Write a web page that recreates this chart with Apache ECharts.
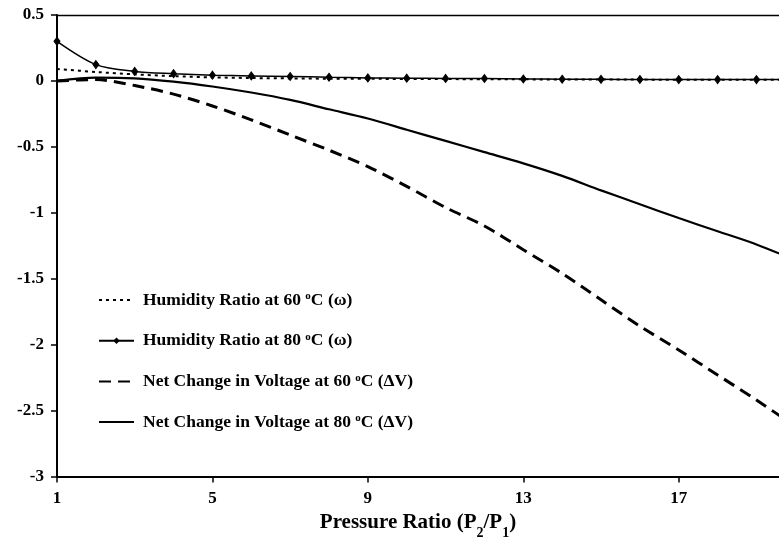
<!DOCTYPE html>
<html>
<head>
<meta charset="utf-8">
<style>
  html, body { margin: 0; padding: 0; background: #fff; }
  #chart { width: 779px; height: 539px; }
</style>
<script src="https://cdn.jsdelivr.net/npm/echarts@6/dist/echarts.min.js"></script>
</head>
<body>
<div id="chart"></div>
<script>
// Pressure ratio P2/P1 (x values)
const pressureRatio = [1, 2, 3, 4, 5, 6, 7, 8, 9, 10, 11, 12, 13, 14, 15, 16, 17, 18, 19, 20];

// Humidity ratio (ω) at 60 °C and 80 °C
const humidity60 = [0.091, 0.068, 0.050, 0.036, 0.027, 0.022, 0.019, 0.017, 0.016, 0.015, 0.014, 0.013, 0.012, 0.011, 0.010, 0.010, 0.009, 0.009, 0.008, 0.008];
const humidity80 = [0.300, 0.124, 0.072, 0.055, 0.044, 0.038, 0.034, 0.028, 0.023, 0.021, 0.019, 0.018, 0.015, 0.013, 0.012, 0.011, 0.010, 0.010, 0.010, 0.010];

// Net change in voltage (ΔV) at 60 °C and 80 °C
const deltaV60 = [0.000, 0.010, -0.035, -0.100, -0.190, -0.295, -0.410, -0.525, -0.650, -0.800, -0.960, -1.100, -1.280, -1.460, -1.660, -1.860, -2.040, -2.230, -2.420, -2.620];
const deltaV80 = [0.000, 0.025, 0.020, -0.005, -0.042, -0.088, -0.144, -0.215, -0.285, -0.370, -0.455, -0.540, -0.625, -0.720, -0.830, -0.935, -1.040, -1.140, -1.240, -1.360];

// Axis ticks and visible ranges
const xTickValues = [1, 5, 9, 13, 17];
const xMin = 1, xMax = 19.58;
const yMin = -3, yMax = 0.5, yStep = 0.5;

// Legend entries: plain name + rich-text label with superscript degree "o"
const seriesNames = [
  'Humidity Ratio at 60 oC (ω)',
  'Humidity Ratio at 80 oC (ω)',
  'Net Change in Voltage at 60 oC (ΔV)',
  'Net Change in Voltage at 80 oC (ΔV)'
];
const legendLabels = {
  'Humidity Ratio at 60 oC (ω)': '{t|Humidity Ratio at 60 }{s|o}{t|C (ω)}',
  'Humidity Ratio at 80 oC (ω)': '{t|Humidity Ratio at 80 }{s|o}{t|C (ω)}',
  'Net Change in Voltage at 60 oC (ΔV)': '{t|Net Change in Voltage at 60 }{s|o}{t|C (ΔV)}',
  'Net Change in Voltage at 80 oC (ΔV)': '{t|Net Change in Voltage at 80 }{s|o}{t|C (ΔV)}'
};

const FONT = '"Liberation Serif", "Times New Roman", serif';

function pairs(ys) {
  return pressureRatio.map((x, i) => [x, ys[i]]);
}

const chart = echarts.init(document.getElementById('chart'), null, { renderer: 'canvas' });

chart.setOption({
  animation: false,
  backgroundColor: '#ffffff',
  grid: { left: 57, top: 15, bottom: 62.5, right: 0, containLabel: false, outerBoundsMode: 'none' },
  legend: {
    orient: 'vertical',
    left: 93, top: 286,
    itemWidth: 35, itemHeight: 8, itemGap: 22.7,
    data: seriesNames.map((name, i) => ({
      name,
      // only the 80 °C humidity curve carries point markers
      itemStyle: i === 1 ? {} : { opacity: 0 }
    })),
    formatter: name => legendLabels[name],
    textStyle: {
      padding: [0, 0, 0, 4],
      rich: {
        t: { fontFamily: FONT, fontWeight: 'bold', fontSize: 17.5, color: '#000', lineHeight: 18, verticalAlign: 'bottom' },
        s: { fontFamily: FONT, fontWeight: 'bold', fontSize: 11, color: '#000', lineHeight: 18, verticalAlign: 'top' }
      }
    }
  },
  xAxis: [
    {
      type: 'value',
      min: xMin, max: xMax,
      splitLine: { show: false },
      axisLine: { onZero: false, lineStyle: { color: '#000', width: 2 } },
      axisTick: { show: true, customValues: xTickValues, length: 6, lineStyle: { color: '#000', width: 1.5 } },
      axisLabel: {
        customValues: xTickValues, margin: 14,
        fontFamily: FONT, fontWeight: 'bold', fontSize: 17, color: '#000'
      },
      name: '{t|Pressure Ratio (P}{b|2}{t|/P}{b|1}{t|)}',
      nameLocation: 'middle', nameGap: 31,
      nameTextStyle: {
        rich: {
          t: { fontFamily: FONT, fontWeight: 'bold', fontSize: 21, color: '#000', lineHeight: 24, verticalAlign: 'top' },
          b: { fontFamily: FONT, fontWeight: 'bold', fontSize: 14, color: '#000', lineHeight: 24, verticalAlign: 'bottom', padding: [0, 0, -4, 0] }
        }
      }
    },
    {
      // top frame line of the plot area
      type: 'value', position: 'top',
      min: xMin, max: xMax,
      splitLine: { show: false },
      axisLine: { onZero: false, lineStyle: { color: '#000', width: 1.3 } },
      axisTick: { show: false },
      axisLabel: { show: false }
    }
  ],
  yAxis: {
    type: 'value',
    min: yMin, max: yMax, interval: yStep,
    splitLine: { show: false },
    axisLine: { onZero: false, lineStyle: { color: '#000', width: 2 } },
    axisTick: { show: true, length: 6, lineStyle: { color: '#000', width: 1.5 } },
    axisLabel: {
      margin: 13,
      fontFamily: FONT, fontWeight: 'bold', fontSize: 17, color: '#000'
    }
  },
  series: [
    {
      name: seriesNames[0], type: 'line', data: pairs(humidity60),
      smooth: 0.3, symbol: 'none', z: 3,
      lineStyle: { color: '#000', width: 2, type: [3, 4] },
      itemStyle: { color: '#000' }
    },
    {
      name: seriesNames[1], type: 'line', data: pairs(humidity80),
      smooth: 0.3, symbol: 'diamond', symbolSize: [6, 8], z: 4,
      lineStyle: { color: '#000', width: 1.5 },
      itemStyle: { color: '#000', borderColor: '#000' }
    },
    {
      name: seriesNames[2], type: 'line', data: pairs(deltaV60),
      smooth: 0.3, symbol: 'none', z: 3,
      lineStyle: { color: '#000', width: 3, type: [12, 7] },
      itemStyle: { color: '#000' }
    },
    {
      name: seriesNames[3], type: 'line', data: pairs(deltaV80),
      smooth: 0.3, symbol: 'none', z: 3,
      lineStyle: { color: '#000', width: 2.2 },
      itemStyle: { color: '#000' }
    }
  ]
});
</script>
</body>
</html>
